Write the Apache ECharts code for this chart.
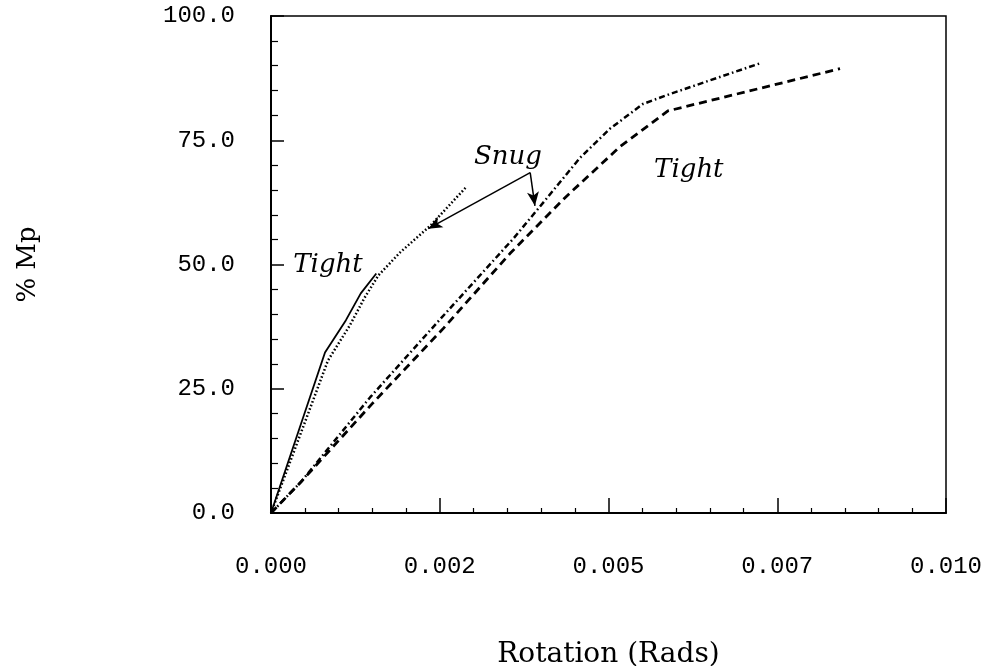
<!DOCTYPE html>
<html>
<head>
<meta charset="utf-8">
<script src="https://cdn.jsdelivr.net/npm/echarts@6/dist/echarts.min.js"></script>
<style>
  html, body { margin: 0; padding: 0; background: #fff; }
  #chart { width: 991px; height: 666px; }
</style>
</head>
<body>
<div id="chart"></div>
<script>
// Moment–rotation curves: [rotation (rad), % Mp]
const tightSolid = [[0, 0], [0.0008, 32.3], [0.00111, 38.8], [0.00133, 44.2], [0.00156, 48.2]];
const snugDotted = [[0, 0], [0.000844, 30.7], [0.00117, 37.8], [0.00139, 43.4], [0.00159, 47.8],
                    [0.00191, 52.4], [0.00236, 57.8], [0.0029, 65.7]];
const snugDashDot = [[0, 0], [0.00044, 6.2], [0.00147, 23.3], [0.00252, 39.2], [0.00359, 55.2],
                     [0.00406, 62.9], [0.00458, 71.5], [0.00502, 77.3], [0.00551, 82.3],
                     [0.00591, 84.3], [0.00727, 90.6]];
const tightDashed = [[0, 0], [0.00044, 6.2], [0.00150, 22.0], [0.00255, 37.1], [0.00354, 52.2],
                     [0.00436, 63.5], [0.00517, 73.7], [0.00588, 80.9], [0.00843, 89.4]];

// Axis ticks
const xTicks = [0, 0.0025, 0.005, 0.0075, 0.01];
const yTicks = [0, 25, 50, 75, 100];

// Annotation anchors in data space
const snugApex = [0.00384, 68.5];
const snugTips = [[0.00233, 57.2], [0.00391, 61.8]];
const textNotes = [
  { text: 'Snug', at: [0.00351, 71.5] },
  { text: 'Tight', at: [0.000844, 49.8] },
  { text: 'Tight', at: [0.00619, 68.9] }
];

const mono = '"Liberation Mono", "DejaVu Sans Mono", monospace';
const serif = '"DejaVu Serif", "Liberation Serif", serif';

const chart = echarts.init(document.getElementById('chart'), null, { renderer: 'canvas' });

function curve(name, data, type, width) {
  return {
    name, type: 'line', data, symbol: 'none', smooth: false, silent: true,
    lineStyle: { color: '#000', width, type }
  };
}

chart.setOption({
  backgroundColor: '#fff',
  animation: false,
  grid: { left: 271, right: 45, top: 16, bottom: 153, show: true, containLabel: false,
          outerBoundsMode: 'none',
          borderColor: '#000', borderWidth: 1.5, backgroundColor: 'transparent' },
  xAxis: {
    type: 'value', min: xTicks[0], max: xTicks[xTicks.length - 1], interval: xTicks[1] - xTicks[0],
    name: 'Rotation (Rads)', nameLocation: 'middle', nameGap: 128,
    nameTextStyle: { fontFamily: serif, fontSize: 28, color: '#000' },
    axisLine: { show: true, lineStyle: { color: '#000', width: 2 } },
    axisTick: { show: true, inside: true, length: 15, lineStyle: { color: '#000', width: 1.5 } },
    minorTick: { show: true, splitNumber: 5, length: 5, lineStyle: { color: '#000', width: 1.2 } },
    splitLine: { show: false },
    axisLabel: {
      margin: 42, fontFamily: mono, fontSize: 24, color: '#000',
      formatter: v => (Math.floor(v * 1000 + 1e-9) / 1000).toFixed(3)
    }
  },
  yAxis: {
    type: 'value', min: yTicks[0], max: yTicks[yTicks.length - 1], interval: yTicks[1] - yTicks[0],
    name: '% Mp', nameLocation: 'middle', nameGap: 230, nameRotate: 90,
    nameTextStyle: { fontFamily: serif, fontSize: 26, color: '#000' },
    axisLine: { show: true, lineStyle: { color: '#000', width: 2 } },
    axisTick: { show: true, inside: true, length: 13, lineStyle: { color: '#000', width: 1.5 } },
    minorTick: { show: true, splitNumber: 5, length: 7, lineStyle: { color: '#000', width: 1.2 } },
    splitLine: { show: false },
    axisLabel: { margin: 36, fontFamily: mono, fontSize: 24, color: '#000',
                 formatter: v => v.toFixed(1) }
  },
  series: [
    curve('Tight (solid)', tightSolid, 'solid', 1.8),
    curve('Snug (dotted)', snugDotted, [1.6, 2.2], 2.5),
    curve('Snug (dash-dot)', snugDashDot, [6, 3, 1.6, 3], 2.5),
    Object.assign(curve('Tight (dashed)', tightDashed, [8, 5], 2.8), {
      markLine: {
        silent: true, animation: false,
        symbol: ['none', 'arrow'], symbolSize: [9, 14],
        lineStyle: { color: '#000', width: 1.5, type: 'solid' },
        label: { show: false },
        data: snugTips.map(t => [{ coord: snugApex }, { coord: t }])
      },
      markPoint: {
        silent: true, animation: false,
        symbol: 'circle', symbolSize: 0,
        label: { show: true, position: 'inside', color: '#000', fontFamily: serif,
                 fontStyle: 'italic', fontSize: 26,
                 formatter: p => p.data.name },
        data: textNotes.map(n => ({ name: n.text, coord: n.at }))
      }
    })
  ]
});
</script>
</body>
</html>
